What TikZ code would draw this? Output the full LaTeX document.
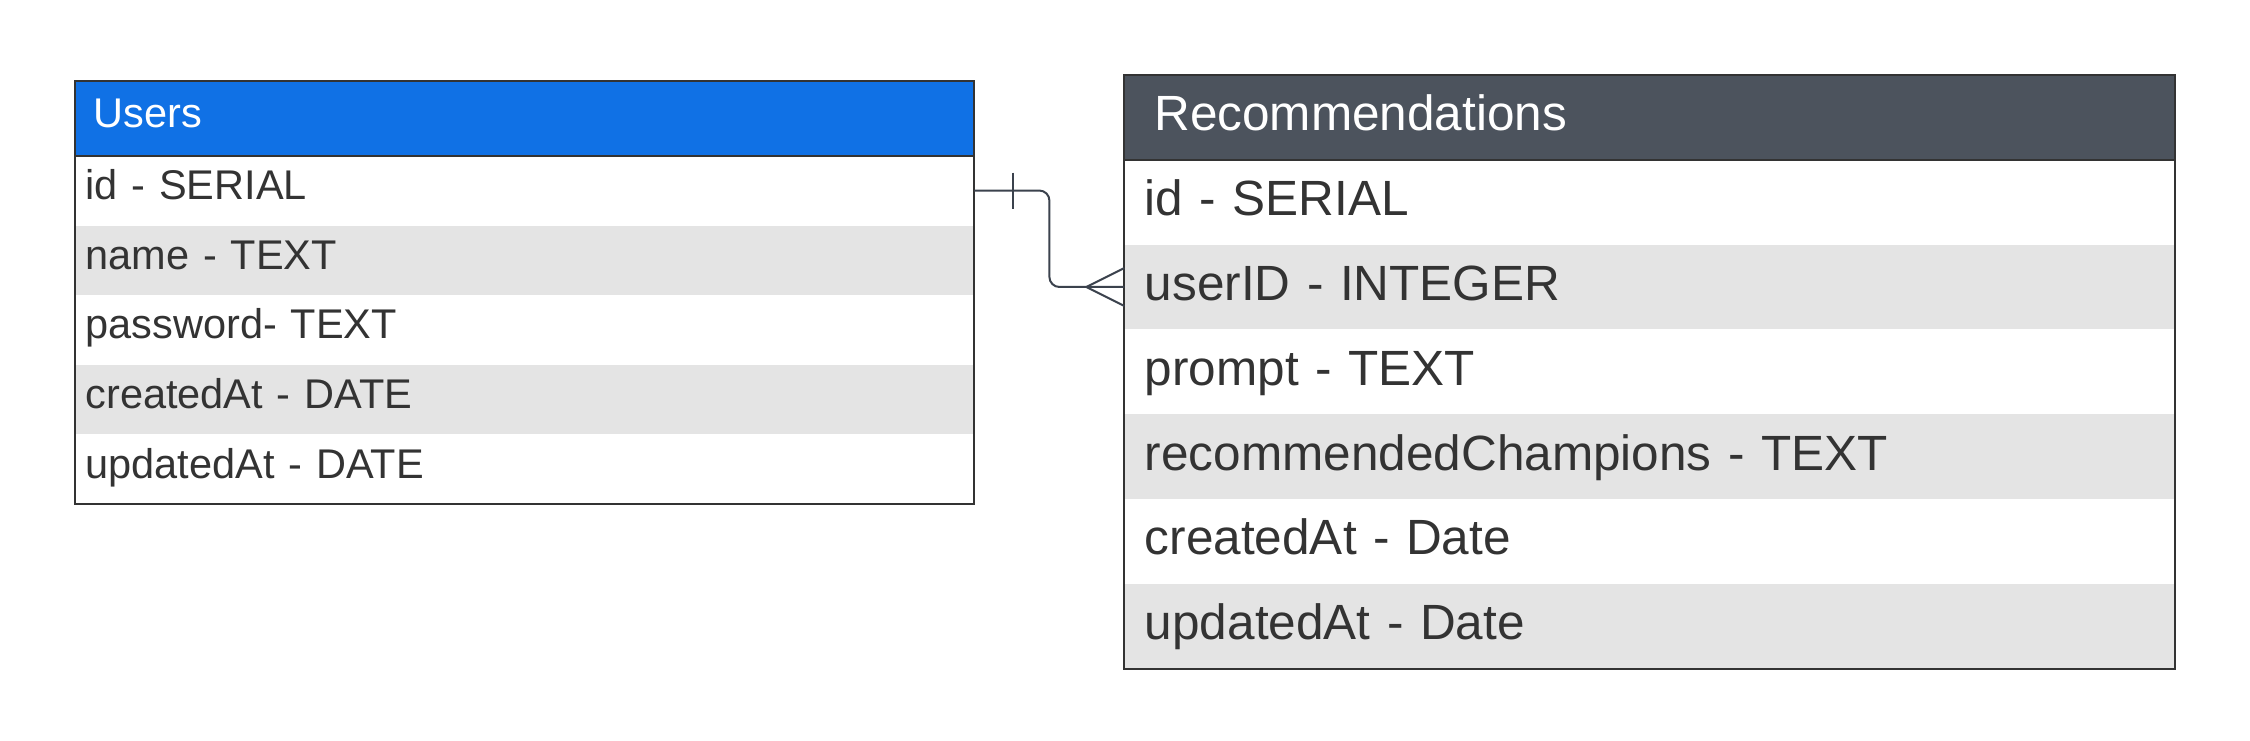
\documentclass[tikz,border=0pt]{standalone}
\usepackage{fontspec}
\setmainfont{Liberation Sans}
\usetikzlibrary{calc}
\definecolor{ublue}{HTML}{1071E5}
\definecolor{rhead}{HTML}{4C535D}
\definecolor{rowgray}{HTML}{E4E4E4}
\definecolor{txt}{HTML}{333333}
\definecolor{edge}{HTML}{333333}
\definecolor{conncol}{HTML}{3B424D}
\tikzset{
  ubox/.style={rectangle, anchor=north west, minimum width=899.3pt, minimum height=69.3pt,
    inner xsep=10.6pt, inner ysep=0pt, text width=878.1pt, align=left,
    text height=29.6pt, text depth=11.6pt, font=\fontsize{41.5}{49}\selectfont, text=txt},
  uhead/.style={ubox, minimum height=75pt, fill=ublue, text=white, inner xsep=19pt, text width=861.3pt},
  rbox/.style={rectangle, anchor=north west, minimum width=1050pt, minimum height=84.45pt,
    inner xsep=20.4pt, inner ysep=0pt, text width=1009.2pt, align=left,
    text height=35.4pt, text depth=8.5pt, font=\fontsize{49.5}{58}\selectfont, text=txt},
  rhd/.style={rbox, minimum height=84.6pt, fill=rhead, text=white, inner xsep=29.8pt, text width=990.4pt},
  whiterow/.style={fill=white},
  grayrow/.style={fill=rowgray},
  border/.style={draw=edge, line width=2pt},
  conn/.style={draw=conncol, line width=2pt},
}
\begin{document}
\begin{tikzpicture}[x=1pt,y=-1pt]
\useasboundingbox[fill=white] (0,0) rectangle (2250,741);
% Users table
\node[uhead] (uh) at (74.7,80.7) {Users};
\node[ubox,whiterow] (u1) at (74.7,155.7) {id - SERIAL};
\node[ubox,grayrow] (u2) at (u1.south west) {name - TEXT};
\node[ubox,whiterow] (u3) at (u2.south west) {password- TEXT};
\node[ubox,grayrow] (u4) at (u3.south west) {createdAt - DATE};
\node[ubox,whiterow] (u5) at (u4.south west) {updatedAt - DATE};
\draw[border] (uh.north west) rectangle (u5.south east);
\draw[border] (uh.south west) -- (uh.south east);
% Recommendations table
\node[rhd] (rh) at (1124.3,74.7) {Recommendations};
\node[rbox,whiterow] (r1) at (rh.south west) {id - SERIAL};
\node[rbox,grayrow] (r2) at (r1.south west) {userID - INTEGER};
\node[rbox,whiterow] (r3) at (r2.south west) {prompt - TEXT};
\node[rbox,grayrow] (r4) at (r3.south west) {recommendedChampions - TEXT};
\node[rbox,whiterow] (r5) at (r4.south west) {createdAt - Date};
\node[rbox,grayrow] (r6) at (r5.south west) {updatedAt - Date};
\draw[border] (rh.north west) rectangle (r6.south east);
\draw[border] (rh.south west) -- (rh.south east);
% connector
\draw[conn, rounded corners=10pt] (u1.east) -- ++(75,0) |- (r2.west);
\coordinate (bar) at ($(u1.east)+(38.7,0)$);
\draw[conn] ($(bar)+(0,-18)$) -- ($(bar)+(0,18)$);
\coordinate (cf) at ($(r2.west)+(-38,0)$);
\draw[conn] (cf) -- ($(r2.west)+(0,-19)$);
\draw[conn] (cf) -- ($(r2.west)+(0,19)$);
\end{tikzpicture}
\end{document}
